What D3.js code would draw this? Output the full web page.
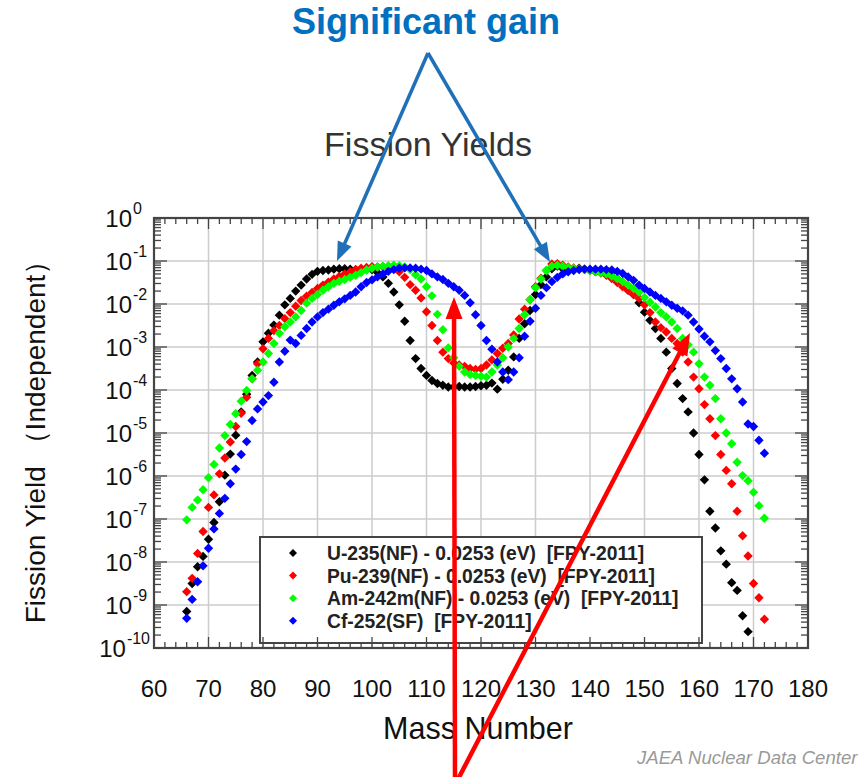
<!DOCTYPE html>
<html>
<head>
<meta charset="utf-8">
<script src="https://cdn.jsdelivr.net/npm/d3@7"></script>
<style>
body{margin:0;background:#fff;}
svg{display:block;font-family:"Liberation Sans",Arial,Helvetica,sans-serif;}
</style>
</head>
<body>
<svg></svg>
<script>
// mass numbers shared by all series (U-235 stops at 169)
var massNumbers=[66,67,68,69,70,71,72,73,74,75,76,77,78,79,80,81,82,83,84,85,86,87,88,89,90,
  91,92,93,94,95,96,97,98,99,100,101,102,103,104,105,106,107,108,109,110,111,112,113,114,115,
  116,117,118,119,120,121,122,123,124,125,126,127,128,129,130,131,132,133,134,135,136,137,138,
  139,140,141,142,143,144,145,146,147,148,149,150,151,152,153,154,155,156,157,158,159,160,161,
  162,163,164,165,166,167,168,169,170,171,172];

// log10 of the independent fission yield
var u235Log=[-9.15,-8.5,-8.11,-7.87,-7.47,-7.08,-6.6,-5.98,-5.49,-5.05,-4.51,-4.1,-3.66,-3.35,-2.88,
  -2.68,-2.49,-2.26,-2.02,-1.87,-1.7,-1.56,-1.42,-1.31,-1.24,-1.22,-1.21,-1.19,-1.18,-1.18,-1.19,
  -1.2,-1.21,-1.2,-1.2,-1.27,-1.37,-1.52,-1.72,-2.02,-2.4,-2.85,-3.27,-3.5,-3.66,-3.78,-3.85,-3.89,
  -3.93,-3.93,-3.92,-3.93,-3.93,-3.92,-3.9,-3.89,-3.84,-3.98,-3.75,-3.54,-3.23,-2.8,-2.46,-2.15,
  -1.78,-1.55,-1.37,-1.18,-1.12,-1.18,-1.2,-1.21,-1.17,-1.19,-1.21,-1.24,-1.23,-1.24,-1.27,-1.41,
  -1.52,-1.65,-1.78,-1.97,-2.19,-2.38,-2.57,-2.8,-3.12,-3.5,-3.85,-4.2,-4.51,-5.0,-5.5,-6.09,-6.82,
  -7.21,-7.74,-8.05,-8.48,-8.66,-9.25,-9.62];
var pu239Log=[-8.69,-8.38,-7.8,-7.29,-6.73,-6.44,-5.95,-5.58,-5.21,-4.85,-4.54,-4.17,-3.74,-3.39,
  -3.04,-2.8,-2.62,-2.5,-2.34,-2.2,-2.05,-1.92,-1.82,-1.73,-1.64,-1.56,-1.49,-1.42,-1.36,-1.3,-1.25,
  -1.2,-1.17,-1.15,-1.13,-1.14,-1.13,-1.13,-1.17,-1.25,-1.38,-1.55,-1.68,-1.86,-2.18,-2.5,-2.85,
  -3.12,-3.27,-3.37,-3.42,-3.45,-3.5,-3.52,-3.5,-3.42,-3.3,-3.15,-3.03,-2.92,-2.72,-2.35,-2.12,-1.9,
  -1.6,-1.4,-1.22,-1.07,-1.06,-1.1,-1.14,-1.16,-1.18,-1.2,-1.22,-1.25,-1.28,-1.33,-1.41,-1.5,-1.6,
  -1.69,-1.78,-1.87,-2.02,-2.2,-2.42,-2.55,-2.65,-2.8,-2.92,-3.12,-3.35,-3.7,-3.97,-4.34,-4.67,
  -5.06,-5.5,-5.87,-6.18,-6.82,-7.39,-7.86,-8.5,-8.83,-9.33];
var am242mLog=[-7.02,-6.73,-6.56,-6.32,-6.04,-5.73,-5.35,-5.06,-4.8,-4.55,-4.26,-4.01,-3.74,-3.54,
  -3.35,-3.15,-2.92,-2.68,-2.53,-2.42,-2.3,-2.15,-1.98,-1.87,-1.78,-1.68,-1.6,-1.52,-1.47,-1.43,
  -1.38,-1.33,-1.27,-1.21,-1.17,-1.14,-1.12,-1.11,-1.1,-1.11,-1.14,-1.2,-1.32,-1.42,-1.6,-1.81,
  -2.24,-2.6,-3.02,-3.25,-3.45,-3.58,-3.64,-3.66,-3.68,-3.7,-3.58,-3.42,-3.25,-3.0,-2.8,-2.57,-2.25,
  -1.9,-1.62,-1.42,-1.22,-1.12,-1.1,-1.12,-1.15,-1.17,-1.19,-1.2,-1.22,-1.24,-1.27,-1.3,-1.35,-1.41,
  -1.48,-1.56,-1.64,-1.72,-1.85,-1.96,-2.07,-2.2,-2.3,-2.42,-2.57,-2.8,-2.95,-3.12,-3.39,-3.7,-3.89,
  -4.2,-4.67,-5.0,-5.25,-5.68,-5.99,-6.11,-6.38,-6.69,-6.98];
var cf252Log=[-9.31,-8.87,-8.46,-8.09,-7.68,-7.23,-6.87,-6.52,-6.18,-5.84,-5.5,-5.2,-4.71,-4.44,
  -4.28,-4.13,-3.82,-3.35,-3.1,-2.84,-2.92,-2.73,-2.57,-2.42,-2.3,-2.2,-2.12,-2.03,-1.95,-1.88,-1.8,
  -1.72,-1.6,-1.5,-1.44,-1.37,-1.3,-1.24,-1.2,-1.17,-1.16,-1.16,-1.17,-1.19,-1.22,-1.3,-1.37,-1.43,
  -1.52,-1.6,-1.68,-1.8,-1.97,-2.25,-2.5,-2.85,-3.05,-3.35,-3.58,-3.76,-3.58,-3.25,-2.75,-2.4,-2.1,
  -1.8,-1.62,-1.48,-1.38,-1.3,-1.25,-1.22,-1.2,-1.19,-1.19,-1.19,-1.19,-1.2,-1.21,-1.24,-1.29,-1.37,
  -1.45,-1.56,-1.64,-1.72,-1.8,-1.87,-1.95,-2.03,-2.1,-2.16,-2.26,-2.42,-2.58,-2.75,-2.88,-3.08,
  -3.27,-3.5,-3.74,-3.97,-4.28,-4.79,-4.85,-5.17,-5.47];

var seriesLabels=["U-235(NF) - 0.0253 (eV)  [FPY-2011]",
                  "Pu-239(NF) - 0.0253 (eV)  [FPY-2011]",
                  "Am-242m(NF) - 0.0253 (eV)  [FPY-2011]",
                  "Cf-252(SF)  [FPY-2011]"];
var seriesColors=["#000000","#ff0000","#00ff00","#0000ff"];
var xTickValues=[60,70,80,90,100,110,120,130,140,150,160,170,180];
var yDecades=[0,-1,-2,-3,-4,-5,-6,-7,-8,-9,-10];

var w=867;
var h=777;
var plot={left:154,right:808,top:218,bottom:648};

var xScale=d3.scaleLinear()
             .domain([60,180])
             .range([plot.left,plot.right]);
var yScale=d3.scaleLog()
             .domain([1e-10,1])
             .range([plot.bottom,plot.top]);

var svg=d3.select("svg")
          .attr("width",w)
          .attr("height",h);

//////////////////////////////////////////////
// grid
var grid=svg.append("g").attr("stroke","#cccccc").attr("stroke-width",1.5);
grid.selectAll("line.gx")
    .data(xTickValues.slice(1,-1))
    .enter().append("line")
    .attr("x1",function(d){return xScale(d);})
    .attr("x2",function(d){return xScale(d);})
    .attr("y1",plot.top).attr("y2",plot.bottom);
grid.selectAll("line.gy")
    .data(yDecades.slice(1,-1))
    .enter().append("line")
    .attr("x1",plot.left).attr("x2",plot.right)
    .attr("y1",function(d){return yScale(Math.pow(10,d));})
    .attr("y2",function(d){return yScale(Math.pow(10,d));});

//////////////////////////////////////////////
// data points
var series=[u235Log,pu239Log,am242mLog,cf252Log].map(function(vals,i){
  return {label:seriesLabels[i],color:seriesColors[i],
          points:vals.map(function(v,j){return {mass:massNumbers[j],y:Math.pow(10,v)};})};
});
var diamond=d3.symbol().type(d3.symbolSquare).size(44);

svg.append("g").selectAll("g")
   .data(series)
   .enter().append("g")
   .attr("fill",function(d){return d.color;})
   .selectAll("path")
   .data(function(d){return d.points;})
   .enter().append("path")
   .attr("d",diamond)
   .attr("transform",function(d){
     return "translate("+xScale(d.mass)+","+yScale(d.y)+") rotate(45)";
   });

//////////////////////////////////////////////
// legend
var legend=svg.append("g");
legend.append("rect")
      .attr("x",260).attr("y",537).attr("width",442).attr("height",106)
      .attr("fill","#fff").attr("stroke","#444").attr("stroke-width",2);
var legendSym=d3.symbol().type(d3.symbolSquare).size(32);
var items=legend.selectAll("g.item")
      .data(series)
      .enter().append("g")
      .attr("transform",function(d,i){return "translate(293,"+(553+i*22.6)+")";});
items.append("path")
     .attr("d",legendSym)
     .attr("transform","rotate(45)")
     .attr("fill",function(d){return d.color;});
items.append("text")
     .attr("x",34).attr("dy","0.36em")
     .attr("font-size",19.3).attr("font-weight","bold")
     .attr("fill","#222")
     .style("white-space","pre")
     .text(function(d){return d.label;});

//////////////////////////////////////////////
// frame and ticks
var axes=svg.append("g").attr("stroke","#444");
var xMinor=d3.range(60,181,2);
var yMinor=[];
yDecades.forEach(function(k){
  if(k<0){for(var m=2;m<=9;m++){yMinor.push({v:m*Math.pow(10,k),major:false});}}
  yMinor.push({v:Math.pow(10,k),major:true});
});

axes.selectAll("line.xb")
    .data(xMinor).enter().append("line")
    .attr("stroke-width",1.3)
    .attr("x1",function(d){return xScale(d);}).attr("x2",function(d){return xScale(d);})
    .attr("y1",plot.bottom).attr("y2",function(d){return plot.bottom-(d%10===0?11:6);});
axes.selectAll("line.xt")
    .data(xMinor).enter().append("line")
    .attr("stroke-width",1.3)
    .attr("x1",function(d){return xScale(d);}).attr("x2",function(d){return xScale(d);})
    .attr("y1",plot.top).attr("y2",function(d){return plot.top+(d%10===0?11:6);});
axes.selectAll("line.yl")
    .data(yMinor).enter().append("line")
    .attr("stroke-width",1.3)
    .attr("y1",function(d){return yScale(d.v);}).attr("y2",function(d){return yScale(d.v);})
    .attr("x1",plot.left).attr("x2",function(d){return plot.left+(d.major?13:7);});
axes.selectAll("line.yr")
    .data(yMinor).enter().append("line")
    .attr("stroke-width",1.3)
    .attr("y1",function(d){return yScale(d.v);}).attr("y2",function(d){return yScale(d.v);})
    .attr("x1",plot.right).attr("x2",function(d){return plot.right-(d.major?13:7);});
axes.append("rect")
    .attr("x",plot.left).attr("y",plot.top)
    .attr("width",plot.right-plot.left).attr("height",plot.bottom-plot.top)
    .attr("fill","none").attr("stroke-width",2.2);

//////////////////////////////////////////////
// tick labels
svg.append("g").selectAll("text")
   .data(xTickValues).enter().append("text")
   .attr("x",function(d){return xScale(d);})
   .attr("y",697)
   .attr("text-anchor","middle")
   .attr("font-size",24)
   .attr("fill","#111")
   .text(function(d){return d;});

var yLab=svg.append("g").selectAll("g")
   .data(yDecades).enter().append("g");
yLab.each(function(k){
  var g=d3.select(this);
  var yy=yScale(Math.pow(10,k));
  g.append("text")
   .attr("x",132).attr("y",yy+8.5)
   .attr("text-anchor","end")
   .attr("font-size",24).attr("fill","#111")
   .text("10");
  var sup=g.append("text")
           .attr("x",133).attr("y",yy-4)
           .attr("font-size",16).attr("fill","#111")
           .text(k);
  var over=133+sup.node().getComputedTextLength()-150;
  if(over>0){g.attr("transform","translate("+(-over)+",0)");}
});

//////////////////////////////////////////////
// titles
svg.append("text")
   .attr("x",428).attr("y",156)
   .attr("text-anchor","middle")
   .attr("font-size",34).attr("fill","#333")
   .text("Fission Yields");
svg.append("text")
   .attr("x",478).attr("y",739)
   .attr("text-anchor","middle")
   .attr("font-size",30.5).attr("fill","#111")
   .text("Mass Number");
svg.append("text")
   .attr("transform","translate(45,435) rotate(-90)")
   .attr("text-anchor","middle")
   .attr("font-size",28).attr("fill","#111")
   .text("Fission Yield \uFF08Independent\uFF09");
svg.append("text")
   .attr("x",637).attr("y",764)
   .attr("font-size",18.6).attr("font-style","italic")
   .attr("fill","#9a9a9a")
   .text("JAEA Nuclear Data Center");

//////////////////////////////////////////////
// annotations
var arrow=function(x1,y1,x2,y2,color,width,headLen,headW){
  var dx=x2-x1,dy=y2-y1,len=Math.sqrt(dx*dx+dy*dy);
  var ux=dx/len,uy=dy/len;
  var bx=x2-ux*headLen,by=y2-uy*headLen;
  var g=svg.append("g");
  g.append("line")
   .attr("x1",x1).attr("y1",y1).attr("x2",bx+ux*2).attr("y2",by+uy*2)
   .attr("stroke",color).attr("stroke-width",width);
  g.append("path")
   .attr("d","M"+x2+","+y2+"L"+(bx-uy*headW/2)+","+(by+ux*headW/2)+
             "L"+(bx+uy*headW/2)+","+(by-ux*headW/2)+"Z")
   .attr("fill",color);
};
svg.append("text")
   .attr("x",426).attr("y",34)
   .attr("text-anchor","middle")
   .attr("font-size",36).attr("font-weight","bold")
   .attr("fill","#0070c0")
   .text("Significant gain");
arrow(428,53,337,261,"#1f70b8",3.5,19,15);
arrow(428,53,550,262,"#1f70b8",3.5,19,15);
arrow(455,785,454,297,"#ff0000",4.5,22,17);
arrow(455,785,690,333,"#ff0000",4.5,22,17);
</script>
</body>
</html>
